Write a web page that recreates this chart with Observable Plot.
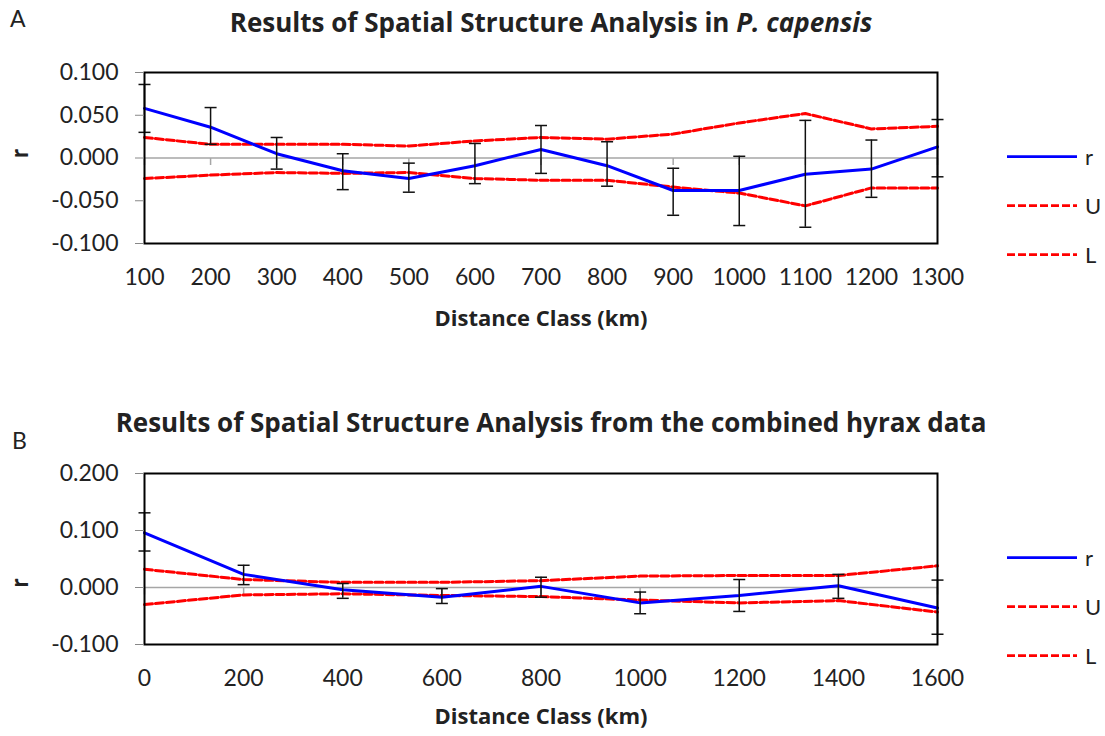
<!DOCTYPE html>
<html>
<head>
<meta charset="utf-8">
<script src="https://cdn.jsdelivr.net/npm/d3@7"></script>
<script src="https://cdn.jsdelivr.net/npm/@observablehq/plot@0.6"></script>
<style>
  body { margin: 0; background: #fff; }
  #page { position: relative; width: 1105px; height: 736px; overflow: hidden; font-family: Lato, sans-serif; color: #222; }
  #page > svg, #page > figure { position: absolute; left: 0; margin: 0; }
  .abs { position: absolute; white-space: nowrap; line-height: 1; }
  .title { font-family: "Open Sans", sans-serif; font-weight: bold; font-size: 26px; transform: translate(-50%, -50%); }
  .letter { font-size: 23px; transform: translateY(-50%); }
  .legend { position: absolute; left: 1007px; }
  .legend .row { position: absolute; left: 0; display: flex; align-items: center; transform: translateY(-50%); font-size: 22px; }
  .legend .row svg { margin-right: 8px; }
</style>
</head>
<body>
<div id="page"></div>
<script>
// Panel A: P. capensis, distance classes 100–1300 km
const distA = [100, 200, 300, 400, 500, 600, 700, 800, 900, 1000, 1100, 1200, 1300];
const rA    = [0.058, 0.036, 0.005, -0.015, -0.024, -0.009, 0.010, -0.009, -0.038, -0.038, -0.019, -0.013, 0.013];
const rHiA  = [0.086, 0.059, 0.024, 0.005, -0.006, 0.017, 0.038, 0.019, -0.012, 0.002, 0.044, 0.021, 0.045];
const rLoA  = [0.030, 0.016, -0.013, -0.037, -0.040, -0.030, -0.018, -0.033, -0.067, -0.079, -0.081, -0.046, -0.022];
const UA    = [0.024, 0.016, 0.016, 0.016, 0.014, 0.020, 0.024, 0.022, 0.028, 0.041, 0.052, 0.034, 0.037];
const LA    = [-0.024, -0.020, -0.017, -0.018, -0.017, -0.024, -0.026, -0.026, -0.034, -0.041, -0.056, -0.035, -0.035];
const yTicksA = [-0.1, -0.05, 0, 0.05, 0.1];

// Panel B: combined hyrax data, distance classes 0–1600 km
const distB = [0, 200, 400, 600, 800, 1000, 1200, 1400, 1600];
const rB    = [0.096, 0.023, -0.004, -0.017, 0.002, -0.027, -0.014, 0.003, -0.036];
const rHiB  = [0.131, 0.039, 0.007, -0.002, 0.018, -0.008, 0.014, 0.023, 0.013];
const rLoB  = [0.064, 0.005, -0.019, -0.028, -0.017, -0.046, -0.042, -0.019, -0.082];
const UB    = [0.032, 0.014, 0.009, 0.009, 0.012, 0.020, 0.021, 0.021, 0.038];
const LB    = [-0.030, -0.013, -0.011, -0.014, -0.016, -0.022, -0.027, -0.023, -0.043];
const yTicksB = [-0.1, 0, 0.1, 0.2];

const seriesNames = ["r", "U", "L"];
const xLabel = "Distance Class (km)";

const BLUE = "#0000ff", RED = "#ff0000";

// small custom symbols: a downward category tick and a horizontal error-bar cap
const downTick = { draw(ctx) { ctx.moveTo(0, 0); ctx.lineTo(0, 7); } };
const cap = { draw(ctx) { ctx.moveTo(-6, 0); ctx.lineTo(6, 0); } };

const page = document.getElementById("page");

function panel({dist, r, hi, lo, U, L, yTicks, top, height, marginTop, marginBottom, xLabelDy}) {
  const rows = dist.map((d, i) => ({dist: d, r: r[i], hi: hi[i], lo: lo[i], U: U[i], L: L[i]}));
  const chart = Plot.plot({
    width: 1105, height, marginTop, marginBottom, marginLeft: 144, marginRight: 168,
    style: {fontFamily: "Lato, sans-serif", fontSize: "23px", color: "#222", background: "transparent", overflow: "visible"},
    x: {domain: d3.extent(dist)},
    y: {domain: d3.extent(yTicks)},
    marks: [
      Plot.ruleY([0], {stroke: "#a6a6a6", strokeWidth: 1.5}),
      Plot.dot(dist, {x: d => d, y: () => 0, symbol: downTick, stroke: "#a6a6a6", strokeWidth: 1.5, fill: "none"}),
      Plot.line(rows, {x: "dist", y: "U", stroke: RED, strokeWidth: 3, strokeDasharray: "8,3"}),
      Plot.line(rows, {x: "dist", y: "L", stroke: RED, strokeWidth: 3, strokeDasharray: "8,3"}),
      Plot.line(rows, {x: "dist", y: "r", stroke: BLUE, strokeWidth: 3}),
      Plot.ruleX(rows, {x: "dist", y1: "lo", y2: "hi", stroke: "#111", strokeWidth: 1.5}),
      Plot.dot(rows, {x: "dist", y: "hi", symbol: cap, stroke: "#111", strokeWidth: 1.5, fill: "none"}),
      Plot.dot(rows, {x: "dist", y: "lo", symbol: cap, stroke: "#111", strokeWidth: 1.5, fill: "none"}),
      Plot.frame({stroke: "#000", strokeWidth: 2}),
      Plot.axisY({ticks: yTicks, tickFormat: d => d.toFixed(3), tickSize: 9, tickPadding: 17, stroke: "#888", label: null}),
      Plot.axisX({ticks: dist, tickFormat: d => String(d), tickSize: 0, tickPadding: 25, label: null}),
      Plot.text(["r"], {y: () => 0, frameAnchor: "left", dx: -124, rotate: -90, fontWeight: "bold", fontSize: 24}),
      Plot.text([xLabel], {frameAnchor: "bottom", dy: xLabelDy, fontWeight: "bold", fontSize: 22, fontFamily: "Open Sans, sans-serif"})
    ]
  });
  chart.style.top = top + "px";
  page.appendChild(chart);
}

function legend(yRows) {
  const box = document.createElement("div");
  box.className = "legend";
  seriesNames.forEach((name, i) => {
    const row = document.createElement("div");
    row.className = "row";
    row.style.top = yRows[i] + "px";
    const dashed = name !== "r";
    row.innerHTML = `<svg width="70" height="6"><line x1="0" x2="70" y1="3" y2="3" stroke="${dashed ? RED : BLUE}" stroke-width="2.75" ${dashed ? 'stroke-dasharray="8,3"' : ""}/></svg><span>${name}</span>`;
    box.appendChild(row);
  });
  page.appendChild(box);
}

function label(html, cls, left, top) {
  const el = document.createElement("div");
  el.className = "abs " + cls;
  el.style.left = left + "px";
  el.style.top = top + "px";
  el.innerHTML = html;
  page.appendChild(el);
}

panel({dist: distA, r: rA, hi: rHiA, lo: rLoA, U: UA, L: LA, yTicks: yTicksA,
       top: 0, height: 345, marginTop: 72, marginBottom: 102, xLabelDy: 82});
panel({dist: distB, r: rB, hi: rHiB, lo: rLoB, U: UB, L: LB, yTicks: yTicksB,
       top: 400, height: 336, marginTop: 73, marginBottom: 92, xLabelDy: 79});

label("A", "letter", 10, 18);
label("B", "letter", 12, 440);
label("Results of Spatial Structure Analysis in <i>P. capensis</i>", "title", 551, 22);
label("Results of Spatial Structure Analysis from the combined hyrax data", "title", 551, 422);
legend([156, 205, 254]);
legend([557, 606, 655]);
</script>
</body>
</html>
